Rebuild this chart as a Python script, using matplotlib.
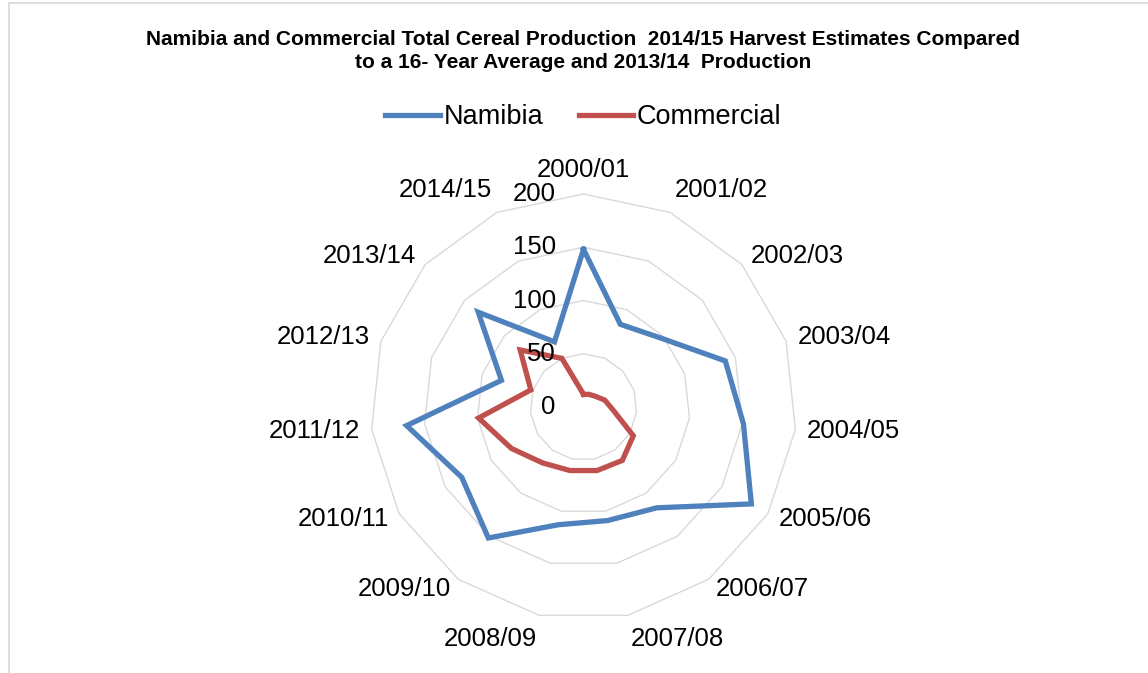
import numpy as np
import matplotlib
matplotlib.use("Agg")
import matplotlib.pyplot as plt
from matplotlib.patches import Rectangle

plt.rcParams['font.family'] = ['Liberation Sans', 'DejaVu Sans']

## data
seasons = ['2000/01', '2001/02', '2002/03', '2003/04', '2004/05', '2005/06',
           '2006/07', '2007/08', '2008/09', '2009/10', '2010/11', '2011/12',
           '2012/13', '2013/14', '2014/15']
namibia = [148, 85, 97, 140, 151, 182, 117, 109, 113, 152, 132, 167, 81, 133, 67]
commercial = [12, 13, 15, 21, 28, 54, 62, 61, 61, 65, 78, 99, 52, 80, 50]
rings = [50, 100, 150, 200]

BLUE = '#4F81BD'
RED = '#C0504D'
GRID = '#D9D9D9'


def closed(vals):
    return list(vals) + [vals[0]]


def main():
    W, H = 1148, 673
    fig = plt.figure(figsize=(W / 100, H / 100), dpi=100)

    # chart border
    fig.patches.append(Rectangle((9 / W, -0.01), 1.1, 1 - 3 / H + 0.01,
                                 transform=fig.transFigure, fill=False,
                                 edgecolor=GRID, lw=1.2))

    cx, cy, rad = 583.5, 407, 213
    ax = fig.add_axes([(cx - rad) / W, 1 - (cy + rad) / H, 2 * rad / W, 2 * rad / H],
                      projection='polar')
    ax.set_theta_zero_location('N')
    ax.set_theta_direction(-1)
    ax.set_ylim(0, 200)
    ax.grid(False)
    ax.set_xticks([])
    ax.set_yticks([])
    ax.spines['polar'].set_visible(False)
    ax.patch.set_alpha(0)

    n = len(seasons)
    theta = np.arange(n) * 2 * np.pi / n
    th = closed(theta)

    # polygon grid rings
    for r in rings:
        ax.plot(th, [r] * (n + 1), color=GRID, lw=1.0, clip_on=False, zorder=1)

    ax.plot(th, closed(namibia), color=BLUE, lw=3.8, label='Namibia',
            solid_joinstyle='miter', clip_on=False, zorder=3)
    ax.plot(th, closed(commercial), color=RED, lw=3.8, label='Commercial',
            solid_joinstyle='miter', clip_on=False, zorder=3)

    # radial value labels
    for v in [0] + rings:
        ax.annotate(str(v), (0, v), xytext=(-20, 0), textcoords='offset points',
                    ha='right', va='center', fontsize=18.5)

    # category labels
    d = 8.6
    for t, lab in zip(theta, seasons):
        s, c = np.sin(t), np.cos(t)
        ha = 'center' if abs(s) < 0.05 else ('left' if s > 0 else 'right')
        va = 'bottom' if c > 0.85 else ('top' if c < -0.85 else 'center')
        ax.annotate(lab, (t, 200), xytext=(d * s, d * c), textcoords='offset points',
                    ha=ha, va=va, fontsize=18.5, annotation_clip=False)

    fig.text(cx / W, 1 - 51 / H,
             'Namibia and Commercial Total Cereal Production  2014/15 Harvest Estimates Compared\n'
             'to a 16- Year Average and 2013/14  Production',
             ha='center', va='center', fontsize=15, fontweight='bold', linespacing=1.3)

    fig.legend(loc='center', bbox_to_anchor=(cx / W, 1 - 117 / H), ncol=2,
               frameon=False, fontsize=19.5, handlelength=2.0, handletextpad=0.15,
               columnspacing=1.3)

    fig.savefig('out.png', dpi=100)


if __name__ == "__main__":
    main()
